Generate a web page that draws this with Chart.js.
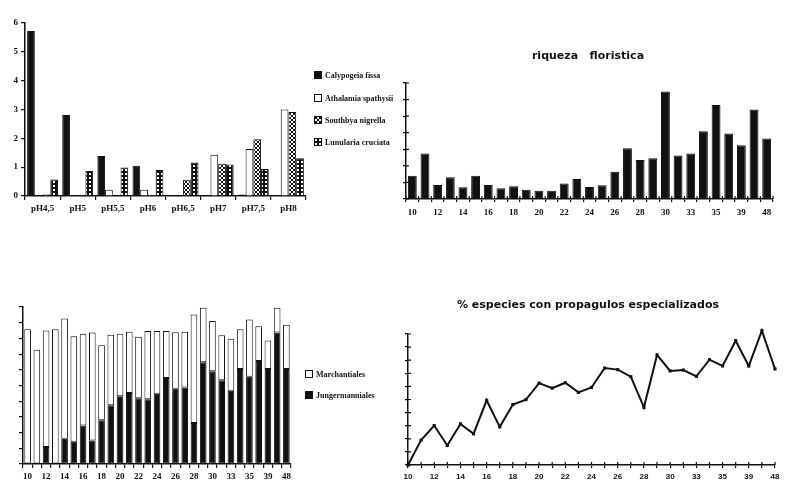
<!DOCTYPE html>
<html>
<head>
<meta charset="utf-8">
<script src="https://cdn.jsdelivr.net/npm/chart.js@4.4.0/dist/chart.umd.min.js"></script>
<style>
  body { margin: 0; background: #fff; width: 786px; height: 483px; position: relative; overflow: hidden; }
  canvas.panel { position: absolute; }
  .leg { position: absolute; font: bold 8px "Liberation Serif", serif; color: #111; white-space: nowrap; line-height: 9px; filter: grayscale(1); }
  .leg canvas { position: absolute; left: 0; top: 0; }
  .leg span { position: absolute; left: 11px; top: 0; }
</style>
</head>
<body>
<canvas id="phChart" class="panel" width="310" height="220" style="left:0;top:0"></canvas>
<canvas id="riqChart" class="panel" width="396" height="200" style="left:390px;top:30px"></canvas>
<canvas id="ordChart" class="panel" width="300" height="193" style="left:0;top:290px"></canvas>
<canvas id="propChart" class="panel" width="396" height="193" style="left:390px;top:290px"></canvas>
<div id="legPh"></div>
<div id="legOrd"></div>
<script>
// top left: mean cover by pH class
const phLabels = ["pH4,5", "pH5", "pH5,5", "pH6", "pH6,5", "pH7", "pH7,5", "pH8"];
const calypogeia = [5.72, 2.81, 1.39, 1.05, 0.02, 0, 0.05, 0];
const athalamia = [0, 0, 0.22, 0.22, 0, 1.43, 1.63, 3.0];
const southbya = [0.05, 0.03, 0, 0.04, 0.56, 1.12, 1.97, 2.91];
const lunularia = [0.57, 0.87, 0.99, 0.90, 1.16, 1.09, 0.94, 1.31];

// stations shared by the other three panels (only every other one is labelled)
const stations = [10, 11, 12, 13, 14, 15, 16, 17, 18, 19, 20, 21, 22, 23, 24, 25, 26, 27, 28, 29, 30,
                  32, 33, 34, 35, 37, 39, 43, 48];
const riqueza = [1.41, 2.74, 0.85, 1.31, 0.71, 1.41, 0.85, 0.65, 0.77, 0.56, 0.50, 0.50, 0.93, 1.21, 0.73,
                 0.83, 1.65, 3.06, 2.36, 2.46, 6.49, 2.62, 2.74, 4.09, 5.67, 3.95, 3.25, 5.40, 3.65];
const jungermanniales = [0, 0, 1.08, 0, 1.61, 1.42, 2.46, 1.49, 2.78, 3.74, 4.31, 4.52, 4.18, 4.12, 4.48,
                         5.48, 4.80, 4.88, 2.61, 6.48, 5.90, 5.33, 4.67, 6.05, 5.56, 6.56, 6.05, 8.37, 6.05];
const marchantiales = [8.58, 7.28, 7.43, 8.58, 7.65, 6.71, 5.84, 6.88, 4.78, 4.50, 3.99, 3.91, 3.93, 4.35, 3.99,
                       2.99, 3.59, 3.55, 6.92, 3.48, 3.21, 2.87, 3.31, 2.53, 3.65, 2.21, 1.81, 1.59, 2.82];
const propagulos = [0, 1.90, 3.01, 1.49, 3.14, 2.38, 4.94, 2.91, 4.61, 4.99, 6.25, 5.87, 6.28, 5.54, 5.92,
                    7.40, 7.28, 6.74, 4.40, 8.40, 7.18, 7.25, 6.77, 8.04, 7.56, 9.49, 7.56, 10.25, 7.33];

const ink = "#111";
Chart.defaults.animation = false;
Chart.defaults.color = ink;
Chart.defaults.font.family = '"Liberation Serif", serif';
Chart.defaults.plugins.legend.display = false;
Chart.defaults.plugins.tooltip.enabled = false;

// short tick marks drawn on the inner side of the axes too, like the "+" ticks of the original
Chart.register({
    id: "innerTicks",
    afterDraw(chart, args, opts) {
        const { ctx, chartArea: a } = chart;
        ctx.save();
        ctx.strokeStyle = ink;
        ctx.lineWidth = 1.2;
        ctx.beginPath();
        if (opts.x) {
            const sx = chart.scales.x;
            const n = sx.ticks.length;
            const xs = [];
            if (sx.options.offset) {
                const half = (sx.getPixelForTick(1) - sx.getPixelForTick(0)) / 2;
                for (let i = 0; i <= n; i++) xs.push(sx.getPixelForTick(0) - half + i * half * 2);
            } else {
                for (let i = 0; i < n; i++) xs.push(sx.getPixelForTick(i));
            }
            xs.forEach(x => { ctx.moveTo(x, a.bottom); ctx.lineTo(x, a.bottom - opts.x); });
        }
        if (opts.y) {
            const sy = chart.scales.y;
            sy.ticks.forEach((t, i) => { const y = sy.getPixelForTick(i); ctx.moveTo(a.left, y); ctx.lineTo(a.left + opts.y, y); });
        }
        ctx.stroke();
        ctx.restore();
    },
});

// pattern tiles for the hatched bars
function tile(draw) {
    const c = document.createElement("canvas");
    c.width = c.height = 4;
    draw(c.getContext("2d"));
    return c;
}
const hatchTile = tile(g => {
    g.fillStyle = "#fff"; g.fillRect(0, 0, 4, 4);
    g.fillStyle = ink;
    [[0,0],[1,1],[2,2],[3,3],[3,0],[2,1],[1,2],[0,3]].forEach(p => g.fillRect(p[0], p[1], 1, 1));
});
const dotTile = tile(g => {
    g.fillStyle = ink; g.fillRect(0, 0, 4, 4);
    g.fillStyle = "#fff"; g.fillRect(1, 1, 2, 2);
});
const pat = (id, t) => document.getElementById(id).getContext("2d").createPattern(t, "repeat");

const fixW = w => s => { s.width = w; };
const fixH = h => s => { s.height = h; };
const grid = len => ({ display: true, drawOnChartArea: false, drawTicks: true, tickLength: len, color: ink, lineWidth: 1.2 });
const border = { display: true, color: ink, width: 1.5 };
const tickFont = { size: 9, weight: "bold" };
const everyOther = function (v, i) { return i % 2 === 0 ? this.getLabelForValue(v) : ""; };
// empty right-hand axis: keeps the plot off the right edge while the title stays centred on the canvas
const spacer = w => ({ position: "right", display: true, grid: { display: false }, border: { display: false },
                       ticks: { display: false }, afterFit: fixW(w) });
const titleFont = { family: '"DejaVu Sans", sans-serif', size: 11, weight: "bold" };

const phChart = new Chart(document.getElementById("phChart"), {
    type: "bar",
    data: {
        labels: phLabels,
        datasets: [
            { label: "Calypogeia fissa", data: calypogeia, backgroundColor: ink },
            { label: "Athalamia spathysii", data: athalamia, backgroundColor: "#fff" },
            { label: "Southbya nigrella", data: southbya, backgroundColor: pat("phChart", hatchTile) },
            { label: "Lunularia cruciata", data: lunularia, backgroundColor: pat("phChart", dotTile) },
        ].map(d => Object.assign(d, { borderColor: ink, borderWidth: 1, categoryPercentage: 0.88, barPercentage: 1 })),
    },
    options: {
        responsive: false,
        layout: { padding: { top: 23, right: 4 } },
        scales: {
            x: { grid: grid(4), border, ticks: { font: tickFont, padding: 3, maxRotation: 0, autoSkip: false }, afterFit: fixH(24) },
            y: { min: 0, max: 6, grid: grid(4), border, ticks: { stepSize: 1, font: tickFont, padding: 3 }, afterFit: fixW(25) },
        },
    },
});

new Chart(document.getElementById("riqChart"), {
    type: "bar",
    data: {
        labels: stations,
        datasets: [{ label: "riqueza floristica", data: riqueza, backgroundColor: ink, borderColor: ink, borderWidth: 1,
                     categoryPercentage: 1, barPercentage: 0.7 }],
    },
    options: {
        responsive: false,
        plugins: {
            title: { display: true, text: "riqueza   floristica", color: ink, font: titleFont, padding: { top: 19.4, bottom: 20.4 } },
            innerTicks: { x: 3, y: 3 },
        },
        scales: {
            x: { grid: grid(3), border, ticks: { font: tickFont, padding: 5, maxRotation: 0, autoSkip: false, callback: everyOther }, afterFit: fixH(31) },
            y: { min: 0, max: 7, grid: grid(3), border, ticks: { stepSize: 1, display: false }, afterFit: fixW(16) },
            yr: spacer(13),
        },
    },
});

const ordChart = new Chart(document.getElementById("ordChart"), {
    type: "bar",
    data: {
        labels: stations,
        datasets: [
            { label: "Jungermanniales", data: jungermanniales, backgroundColor: ink },
            { label: "Marchantiales", data: marchantiales, backgroundColor: "#fff" },
        ].map(d => Object.assign(d, { borderColor: ink, borderWidth: 1, borderSkipped: false, categoryPercentage: 1, barPercentage: 0.72 })),
    },
    options: {
        responsive: false,
        layout: { padding: { top: 17, right: 9 } },
        scales: {
            x: { stacked: true, grid: grid(4), border, ticks: { font: tickFont, padding: 3, maxRotation: 0, autoSkip: false, callback: everyOther }, afterFit: fixH(19) },
            y: { stacked: true, min: 0, max: 10, grid: grid(4), border, ticks: { stepSize: 1, display: false }, afterFit: fixW(23) },
        },
    },
});

new Chart(document.getElementById("propChart"), {
    type: "line",
    data: {
        labels: stations,
        datasets: [{ label: "% especies con propagulos especializados", data: propagulos, borderColor: ink, borderWidth: 2,
                     pointStyle: "rect", pointRadius: 2.2, pointBackgroundColor: ink, pointBorderWidth: 0, tension: 0, clip: false }],
    },
    options: {
        responsive: false,
        plugins: {
            title: { display: true, text: "% especies con propagulos especializados", color: ink, font: titleFont, padding: { top: 8.4, bottom: 22.4 } },
            innerTicks: { x: 3, y: 3 },
        },
        scales: {
            x: { grid: grid(3), border, ticks: { font: { family: '"Liberation Sans", sans-serif', size: 8, weight: "bold" }, padding: 4,
                 maxRotation: 0, autoSkip: false, callback: everyOther }, afterFit: fixH(18) },
            y: { min: 0, max: 10, grid: grid(3), border, ticks: { stepSize: 1, display: false }, afterFit: fixW(18) },
            yr: spacer(11),
        },
    },
});

// legends built from the datasets
function legend(holder, chart, order, x, ys) {
    order.forEach((di, k) => {
        const ds = chart.data.datasets[di];
        const row = document.createElement("div");
        row.className = "leg";
        row.style.left = x + "px";
        row.style.top = (ys[k] - 4.5) + "px";
        const sw = document.createElement("canvas");
        sw.width = sw.height = 8;
        const g = sw.getContext("2d");
        const bg = ds.backgroundColor;
        g.fillStyle = typeof bg === "string" ? bg : g.createPattern(di === 2 ? hatchTile : dotTile, "repeat");
        g.fillRect(0, 0, 8, 8);
        g.strokeStyle = ink; g.lineWidth = 1; g.strokeRect(0.5, 0.5, 7, 7);
        const t = document.createElement("span");
        t.textContent = ds.label;
        row.appendChild(sw); row.appendChild(t);
        holder.appendChild(row);
    });
}
legend(document.getElementById("legPh"), phChart, [0, 1, 2, 3], 314, [75, 98, 120, 142]);
legend(document.getElementById("legOrd"), ordChart, [1, 0], 305, [374, 395]);
</script>
</body>
</html>
